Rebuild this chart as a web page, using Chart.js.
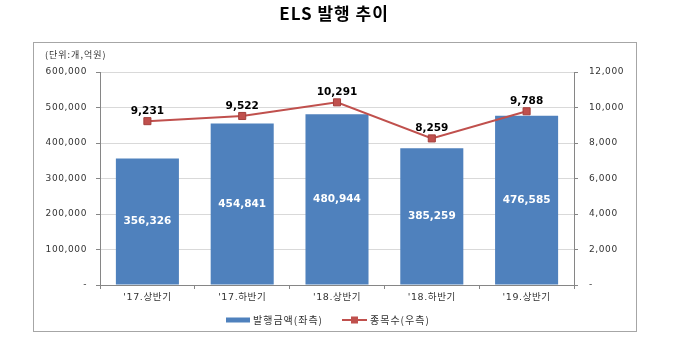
<!DOCTYPE html>
<html>
<head>
<meta charset="utf-8">
<script src="https://cdn.jsdelivr.net/npm/chart.js@4/dist/chart.umd.min.js"></script>
<style>
html,body{margin:0;padding:0;background:#fff;}
#wrap{position:relative;width:689px;height:342px;}
</style>
</head>
<body>
<div id="wrap"><canvas id="c" width="689" height="342"></canvas></div>
<script>
const categories = ["'17.상반기", "'17.하반기", "'18.상반기", "'18.하반기", "'19.상반기"];
const issueAmount = [356326, 454841, 480944, 385259, 476585];
const itemCount = [9231, 9522, 10291, 8259, 9788];
const leftTicks = [0, 100000, 200000, 300000, 400000, 500000, 600000];
const rightTicks = [0, 2000, 4000, 6000, 8000, 10000, 12000];
const titleText = 'ELS 발행 추이';
const unitText = '(단위:개,억원)';
const seriesNames = ['발행금액(좌측)', '종목수(우측)'];

const BLUE = '#4f81bd', RED = '#c0504d';
const NUM_FONT = '"DejaVu Sans", "Noto Sans CJK KR", sans-serif';
const KR_FONT = '"Noto Sans CJK KR", "DejaVu Sans", sans-serif';
const fmt = v => v === 0 ? '-' : v.toLocaleString('en-US');

const decor = {
  id: 'decor',
  beforeDraw(chart) {
    const ctx = chart.ctx;
    ctx.save();
    ctx.fillStyle = '#fff';
    ctx.fillRect(0, 0, chart.width, chart.height);
    ctx.strokeStyle = '#a6a6a6';
    ctx.lineWidth = 1;
    ctx.strokeRect(33.5, 42.5, 603, 289);
    ctx.fillStyle = '#000';
    ctx.font = 'bold 17px ' + KR_FONT;
    ctx.letterSpacing = '1px';
    ctx.textAlign = 'center';
    ctx.textBaseline = 'middle';
    ctx.fillText(titleText, 334, 14);
    ctx.font = '9px ' + KR_FONT;
    ctx.fillStyle = '#333';
    ctx.textAlign = 'left';
    ctx.letterSpacing = '1px';
    ctx.fillText(unitText, 45, 55);
    // legend
    const ly = 320;
    ctx.fillStyle = BLUE;
    ctx.fillRect(226, ly - 2.5, 24, 5);
    ctx.fillStyle = '#333';
    ctx.font = '10px ' + KR_FONT;
    ctx.fillText(seriesNames[0], 253, ly);
    ctx.strokeStyle = RED;
    ctx.lineWidth = 2;
    ctx.beginPath(); ctx.moveTo(342, ly); ctx.lineTo(367, ly); ctx.stroke();
    ctx.fillStyle = RED;
    ctx.fillRect(351, ly - 3.5, 7, 7);
    ctx.fillStyle = '#333';
    ctx.fillText(seriesNames[1], 370, ly);
    ctx.restore();
    ctx.letterSpacing = '0.6px';
  },
  afterDatasetsDraw(chart) {
    const ctx = chart.ctx;
    ctx.save();
    ctx.letterSpacing = '0px';
    ctx.textAlign = 'center';
    ctx.textBaseline = 'middle';
    ctx.font = 'bold 10.5px ' + NUM_FONT;
    const bars = chart.getDatasetMeta(0).data;
    bars.forEach((b, i) => {
      ctx.fillStyle = '#fff';
      ctx.fillText(fmt(issueAmount[i]), b.x, (b.y + b.base) / 2);
    });
    const pts = chart.getDatasetMeta(1).data;
    pts.forEach((p, i) => {
      ctx.fillStyle = '#000';
      ctx.fillText(fmt(itemCount[i]), p.x, p.y - 10);
    });
    ctx.restore();
  }
};

new Chart(document.getElementById('c'), {
  data: {
    labels: categories,
    datasets: [
      {
        type: 'bar', label: seriesNames[0], data: issueAmount, yAxisID: 'y',
        backgroundColor: BLUE, borderWidth: 0, barPercentage: 0.665, categoryPercentage: 1, order: 2
      },
      {
        type: 'line', label: seriesNames[1], data: itemCount, yAxisID: 'y1',
        borderColor: RED, borderWidth: 2, backgroundColor: RED, pointStyle: 'rect',
        pointRadius: 5, pointBorderColor: '#a33f3c', pointBorderWidth: 1, tension: 0, order: 1
      }
    ]
  },
  options: {
    responsive: false, animation: false,
    layout: { padding: { left: 0, right: 0, top: 72, bottom: 0 } },
    plugins: { legend: { display: false }, title: { display: false }, tooltip: { enabled: false } },
    scales: {
      x: {
        offset: true,
        grid: { drawOnChartArea: false, drawTicks: true, tickLength: 4, tickColor: '#868686', offset: true },
        border: { color: '#868686' },
        ticks: { color: '#333', font: { size: 9.5, family: NUM_FONT }, padding: 3, maxRotation: 0 },
        afterFit(s) { s.height = 57; }
      },
      y: {
        position: 'left', min: 0, max: 600000,
        afterBuildTicks(s) { s.ticks = leftTicks.map(v => ({ value: v })); },
        grid: { color: '#d9d9d9', tickColor: '#868686', tickLength: 4 },
        border: { color: '#868686' },
        ticks: { color: '#333', font: { size: 9, family: NUM_FONT }, padding: 9, callback: v => fmt(v) },
        afterFit(s) { s.width = 100; }
      },
      y1: {
        position: 'right', min: 0, max: 12000,
        afterBuildTicks(s) { s.ticks = rightTicks.map(v => ({ value: v })); },
        grid: { drawOnChartArea: false, tickColor: '#868686', tickLength: 4 },
        border: { color: '#868686' },
        ticks: { color: '#333', font: { size: 9, family: NUM_FONT }, padding: 11, callback: v => fmt(v) },
        afterFit(s) { s.width = 115; }
      }
    }
  },
  plugins: [decor]
});
</script>
</body>
</html>
